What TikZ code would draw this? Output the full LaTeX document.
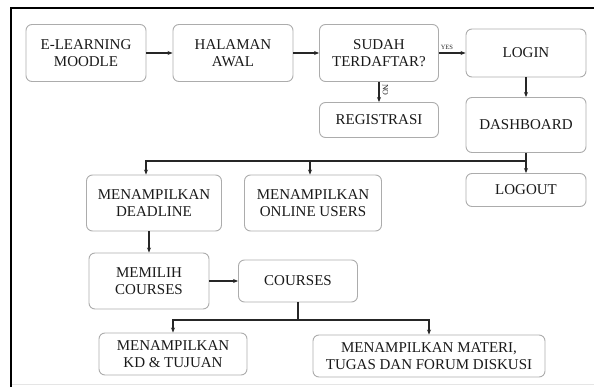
\documentclass[tikz,border=0pt]{standalone}
\usepackage{fontspec}
\setmainfont{Liberation Serif}
\newfontfamily\boxfont{Liberation Serif}
\usetikzlibrary{arrows.meta}
\tikzset{
  box/.style={draw=gray!65,line width=0.9pt,rounded corners=6pt,align=center,inner sep=0pt,
    text=black!90,font=\boxfont\fontsize{15}{17}\selectfont},
  flow/.style={-{Stealth[length=5pt,width=4pt]},line width=1.1pt,black!85},
}
\begin{document}
\begin{tikzpicture}[x=1pt,y=-1pt]
\useasboundingbox (0,0) rectangle (594,387);
% frame
\draw[line width=1.6pt] (11,387) -- (11,8) -- (594,8);
\draw[gray!20,line width=0.8pt] (12,384) -- (594,384);
% top row
\node[box,minimum width=120pt,minimum height=57pt] (elearn) at (86,53) {E-LEARNING\\MOODLE};
\node[box,minimum width=120pt,minimum height=57pt] (awal) at (233,53) {HALAMAN\\AWAL};
\node[box,minimum width=119pt,minimum height=57pt] (sudah) at (379,53) {SUDAH\\TERDAFTAR?};
\node[box,minimum width=120pt,minimum height=48pt] (login) at (526,53) {LOGIN};
\node[box,minimum width=119pt,minimum height=35pt] (regis) at (379,120) {REGISTRASI};
\node[box,minimum width=120pt,minimum height=55pt] (dash) at (526,125) {DASHBOARD};
\node[box,minimum width=120pt,minimum height=33pt] (logout) at (526,190) {LOGOUT};
% middle
\node[box,minimum width=135pt,minimum height=56pt] (deadline) at (154,203) {MENAMPILKAN\\DEADLINE};
\node[box,minimum width=137pt,minimum height=56pt] (online) at (313,203) {MENAMPILKAN\\ONLINE USERS};
\node[box,minimum width=120pt,minimum height=56pt] (memilih) at (149,281) {MEMILIH\\COURSES};
\node[box,minimum width=119pt,minimum height=42pt] (courses) at (298,281) {COURSES};
% bottom
\node[box,minimum width=148pt,minimum height=42pt] (kd) at (173,354) {MENAMPILKAN\\KD \& TUJUAN};
\node[box,minimum width=232pt,minimum height=42pt] (materi) at (429,356) {MENAMPILKAN MATERI,\\TUGAS DAN FORUM DISKUSI};
% connectors
\draw[flow] (elearn) -- (awal);
\draw[flow] (awal) -- (sudah);
\draw[flow] (sudah) -- node[above,pos=0.3,font=\boxfont\fontsize{6.5}{7}\selectfont,black!85] (yes) {YES} (login);
\draw[flow] (sudah) -- node[pos=0.4,rotate=-90,anchor=south,font=\boxfont\fontsize{8}{8}\selectfont,black!85] (no) {NO} (regis);
\draw[flow] (login) -- (dash);
\coordinate (split) at (526,161);
\coordinate (usr) at (310,161);
\draw[flow] (dash) -- (logout);
\draw[flow] (split) -| ([xshift=-8pt]deadline.north);
\draw[flow] (usr) -- (usr |- online.north);
\draw[flow] (deadline.south -| memilih.north) -- (memilih.north);
\draw[flow] (memilih) -- (courses);
\coordinate (fork) at (298,320);
\draw[line width=1.1pt,black!85] (courses.south) -- (fork);
\draw[flow] (fork) -| (kd.north);
\draw[flow] (fork) -| (materi.north);
\end{tikzpicture}
\end{document}
